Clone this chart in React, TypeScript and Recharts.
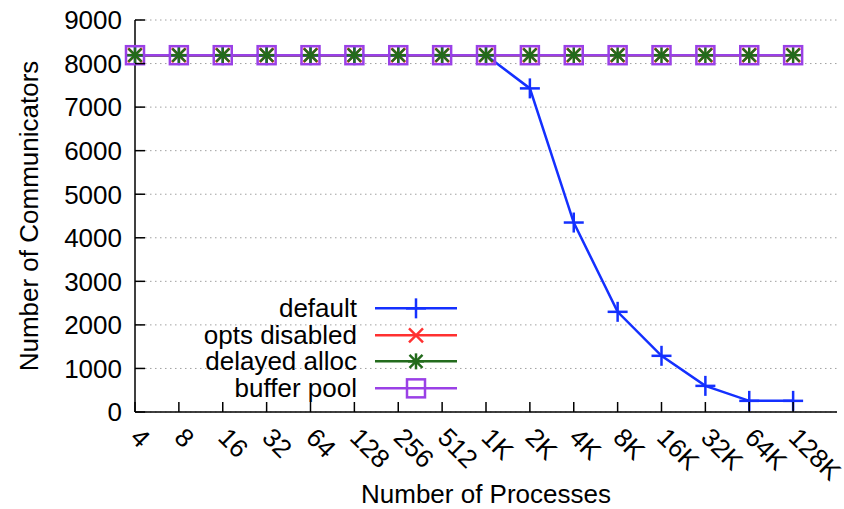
import { CartesianGrid, Legend, Line, LineChart, XAxis, YAxis } from "recharts";

const processLabels = ["4", "8", "16", "32", "64", "128", "256", "512", "1K", "2K", "4K", "8K", "16K", "32K", "64K", "128K"];
const defaultCounts = [8192, 8192, 8192, 8192, 8192, 8192, 8192, 8192, 8192, 7430, 4350, 2300, 1290, 600, 256, 256];
const optsDisabledCounts = [8192, 8192, 8192, 8192, 8192, 8192, 8192, 8192, 8192, 8192, 8192, 8192, 8192, 8192, 8192, 8192];
const delayedAllocCounts = [8192, 8192, 8192, 8192, 8192, 8192, 8192, 8192, 8192, 8192, 8192, 8192, 8192, 8192, 8192, 8192];
const bufferPoolCounts = [8192, 8192, 8192, 8192, 8192, 8192, 8192, 8192, 8192, 8192, 8192, 8192, 8192, 8192, 8192, 8192];
const yTicks = [0, 1000, 2000, 3000, 4000, 5000, 6000, 7000, 8000, 9000];

const FONT = "'Liberation Sans', Arial, Helvetica, sans-serif";
const FONT_SIZE = 26;

type MarkerKind = "plus" | "cross" | "star" | "square";

const series: { key: string; name: string; color: string; marker: MarkerKind }[] = [
  { key: "def", name: "default", color: "#1430ff", marker: "plus" },
  { key: "opts", name: "opts disabled", color: "#ff3030", marker: "cross" },
  { key: "delayed", name: "delayed alloc", color: "#236b1c", marker: "star" },
  { key: "pool", name: "buffer pool", color: "#9a40e6", marker: "square" },
];

const rows = processLabels.map((label, i) => ({
  idx: i,
  label,
  def: defaultCounts[i],
  opts: optsDisabledCounts[i],
  delayed: delayedAllocCounts[i],
  pool: bufferPoolCounts[i],
}));

function Marker({ kind, cx, cy, color }: { kind: MarkerKind; cx: number; cy: number; color: string }) {
  const sw = 2.5;
  if (kind === "plus") {
    return (
      <g stroke={color} strokeWidth={sw}>
        <line x1={cx - 10} x2={cx + 10} y1={cy} y2={cy} />
        <line x1={cx} x2={cx} y1={cy - 10} y2={cy + 10} />
      </g>
    );
  }
  if (kind === "cross") {
    return (
      <g stroke={color} strokeWidth={sw}>
        <line x1={cx - 7} x2={cx + 7} y1={cy - 7} y2={cy + 7} />
        <line x1={cx - 7} x2={cx + 7} y1={cy + 7} y2={cy - 7} />
      </g>
    );
  }
  if (kind === "star") {
    return (
      <g stroke={color} strokeWidth={sw}>
        <line x1={cx - 8} x2={cx + 8} y1={cy} y2={cy} />
        <line x1={cx} x2={cx} y1={cy - 8} y2={cy + 8} />
        <line x1={cx - 6.5} x2={cx + 6.5} y1={cy - 6.5} y2={cy + 6.5} />
        <line x1={cx - 6.5} x2={cx + 6.5} y1={cy + 6.5} y2={cy - 6.5} />
      </g>
    );
  }
  return <rect x={cx - 9} y={cy - 9} width={18} height={18} fill="none" stroke={color} strokeWidth={sw} />;
}

const markerDot = (kind: MarkerKind, color: string) => (p: any) =>
  <Marker key={`${kind}-${p.index}`} kind={kind} cx={p.cx} cy={p.cy} color={color} />;

function BottomTick({ x, y, payload }: any) {
  return (
    <g>
      <line x1={x} x2={x} y1={y} y2={y - 10} stroke="#000" strokeWidth={1.5} />
      <text
        transform={`translate(${x - 6},${y + 27}) rotate(45)`}
        textAnchor="start"
        fontFamily={FONT}
        fontSize={FONT_SIZE}
        fill="#000"
      >
        {processLabels[payload.value]}
      </text>
    </g>
  );
}

function TopTick({ x, y }: any) {
  return <line x1={x} x2={x} y1={y} y2={y + 10} stroke="#000" strokeWidth={1.5} />;
}

function LeftTick({ x, y, payload }: any) {
  return (
    <g>
      <line x1={x} x2={x + 10} y1={y} y2={y} stroke="#000" strokeWidth={1.5} />
      <text x={x - 13} y={y} dy="0.36em" textAnchor="end" fontFamily={FONT} fontSize={FONT_SIZE} fill="#000">
        {payload.value}
      </text>
    </g>
  );
}

function RightTick({ x, y }: any) {
  return <line x1={x} x2={x - 10} y1={y} y2={y} stroke="#000" strokeWidth={1.5} />;
}

function LegendBox() {
  return (
    <div style={{ fontFamily: FONT, fontSize: FONT_SIZE, color: "#000" }}>
      {series.map((s) => (
        <div key={s.key} style={{ display: "flex", alignItems: "center", height: 26.7 }}>
          <div
            style={{ width: 200, height: 26.7, textAlign: "right", lineHeight: "26.7px", overflow: "visible", whiteSpace: "nowrap" }}
          >
            {s.name}
          </div>
          <svg width={102} height={26.7} style={{ display: "block" }}>
            <line x1={18} x2={100} y1={13.35} y2={13.35} stroke={s.color} strokeWidth={2.5} />
            <Marker kind={s.marker} cx={59} cy={13.35} color={s.color} />
          </svg>
        </div>
      ))}
    </div>
  );
}

export default function App() {
  return (
    <div style={{ position: "absolute", left: 0, top: 0, background: "#fff" }}>
      <LineChart width={844} height={509} data={rows} margin={{ top: 20, right: 7, bottom: 0, left: 0 }}>
        <CartesianGrid vertical={false} stroke="#a0a0a0" strokeDasharray="1.5 3.5" strokeWidth={1} />
        <XAxis
          dataKey="idx"
          type="number"
          domain={[0, 16]}
          ticks={rows.map((r) => r.idx)}
          height={97}
          tickSize={0}
          tickMargin={0}
          tickLine={false}
          axisLine={{ stroke: "#000", strokeWidth: 1.5 }}
          tick={<BottomTick />}
          interval={0}
          label={(p: any) => (
            <text
              x={p.viewBox.x + p.viewBox.width / 2}
              y={p.viewBox.y + 91}
              textAnchor="middle"
              fontFamily={FONT}
              fontSize={FONT_SIZE}
              fill="#000"
            >
              Number of Processes
            </text>
          )}
        />
        <XAxis
          xAxisId="top"
          orientation="top"
          dataKey="idx"
          type="number"
          domain={[0, 16]}
          ticks={rows.map((r) => r.idx)}
          height={0}
          tickSize={0}
          tickMargin={0}
          tickLine={false}
          axisLine={{ stroke: "#000", strokeWidth: 1.5 }}
          tick={<TopTick />}
          interval={0}
        />
        <YAxis
          domain={[0, 9000]}
          ticks={yTicks}
          width={135}
          tickSize={0}
          tickMargin={0}
          tickLine={false}
          axisLine={{ stroke: "#000", strokeWidth: 1.5 }}
          tick={<LeftTick />}
          interval={0}
          label={(p: any) => {
            const cx = p.viewBox.x + 29;
            const cy = p.viewBox.y + p.viewBox.height / 2;
            return (
              <text
                transform={`translate(${cx},${cy}) rotate(-90)`}
                textAnchor="middle"
                dy="0.36em"
                fontFamily={FONT}
                fontSize={FONT_SIZE}
                fill="#000"
              >
                Number of Communicators
              </text>
            );
          }}
        />
        <YAxis
          yAxisId="right"
          orientation="right"
          domain={[0, 9000]}
          ticks={yTicks}
          width={0}
          tickSize={0}
          tickMargin={0}
          tickLine={false}
          axisLine={{ stroke: "#000", strokeWidth: 1.5 }}
          tick={<RightTick />}
          interval={0}
        />
        <Legend
          layout="horizontal"
          verticalAlign="middle"
          align="center"
          content={<LegendBox />}
          wrapperStyle={{ left: 157, top: 295, width: 310, height: 110 }}
        />
        {series.map((s) => (
          <Line
            key={s.key}
            type="linear"
            dataKey={s.key}
            name={s.name}
            stroke={s.color}
            strokeWidth={2.5}
            dot={markerDot(s.marker, s.color)}
            activeDot={false}
            isAnimationActive={false}
          />
        ))}
      </LineChart>
    </div>
  );
}
